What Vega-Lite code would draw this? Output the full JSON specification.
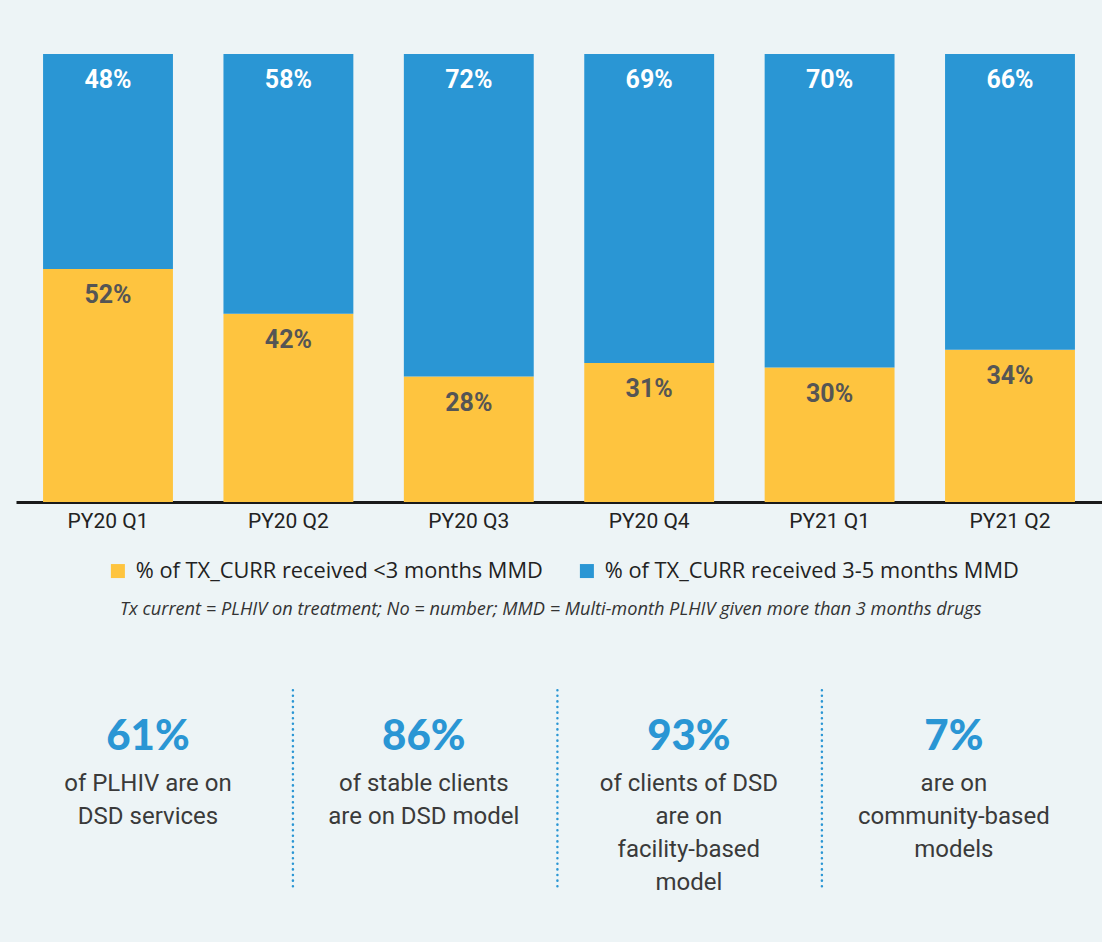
{
  "$schema": "https://vega.github.io/schema/vega-lite/v6.json",
  "background": "#edf4f6",
  "padding": {"left": 16, "top": 54, "right": 0, "bottom": 42},
  "config": {"view": {"stroke": null}, "concat": {"spacing": 63}, "font": "Roboto"},
  "vconcat": [
    {
      "width": 1086,
      "height": 448,
      "data": {"values": [
        {"quarter": "PY20 Q1", "series": "% of TX_CURR received <3 months MMD", "ord": 1, "value": 52, "label": "52%"},
        {"quarter": "PY20 Q1", "series": "% of TX_CURR received 3-5 months MMD", "ord": 2, "value": 48, "label": "48%"},
        {"quarter": "PY20 Q2", "series": "% of TX_CURR received <3 months MMD", "ord": 1, "value": 42, "label": "42%"},
        {"quarter": "PY20 Q2", "series": "% of TX_CURR received 3-5 months MMD", "ord": 2, "value": 58, "label": "58%"},
        {"quarter": "PY20 Q3", "series": "% of TX_CURR received <3 months MMD", "ord": 1, "value": 28, "label": "28%"},
        {"quarter": "PY20 Q3", "series": "% of TX_CURR received 3-5 months MMD", "ord": 2, "value": 72, "label": "72%"},
        {"quarter": "PY20 Q4", "series": "% of TX_CURR received <3 months MMD", "ord": 1, "value": 31, "label": "31%"},
        {"quarter": "PY20 Q4", "series": "% of TX_CURR received 3-5 months MMD", "ord": 2, "value": 69, "label": "69%"},
        {"quarter": "PY21 Q1", "series": "% of TX_CURR received <3 months MMD", "ord": 1, "value": 30, "label": "30%"},
        {"quarter": "PY21 Q1", "series": "% of TX_CURR received 3-5 months MMD", "ord": 2, "value": 70, "label": "70%"},
        {"quarter": "PY21 Q2", "series": "% of TX_CURR received <3 months MMD", "ord": 1, "value": 34, "label": "34%"},
        {"quarter": "PY21 Q2", "series": "% of TX_CURR received 3-5 months MMD", "ord": 2, "value": 66, "label": "66%"}
      ]},
      "transform": [
        {"stack": "value", "groupby": ["quarter"], "sort": [{"field": "ord"}], "as": ["v0", "v1"]}
      ],
      "encoding": {
        "x": {
          "field": "quarter", "type": "nominal", "sort": null,
          "scale": {"paddingInner": 0.28, "paddingOuter": 0.15},
          "axis": {
            "title": null, "labelAngle": 0, "ticks": false, "labelPadding": 8,
            "labelFontSize": 21, "labelColor": "#222222", "labelFont": "Roboto",
            "domainColor": "#1a1a1a", "domainWidth": 3
          }
        }
      },
      "layer": [
        {
          "mark": {"type": "bar"},
          "encoding": {
            "y": {"field": "v1", "type": "quantitative", "scale": {"domain": [0, 100]}, "axis": null},
            "y2": {"field": "v0"},
            "color": {
              "field": "series", "type": "nominal",
              "scale": {"domain": ["% of TX_CURR received <3 months MMD", "% of TX_CURR received 3-5 months MMD"], "range": ["#fec43f", "#2a96d4"]},
              "legend": {
                "title": null, "orient": "none", "direction": "horizontal",
                "legendX": 91, "legendY": 506,
                "symbolType": "square", "symbolSize": 196, "symbolStrokeWidth": 0,
                "labelFont": "Open Sans", "labelFontSize": 21.8, "labelColor": "#222222", "labelOffset": 7,
                "columnPadding": 33, "labelLimit": 600
              }
            }
          }
        },
        {
          "mark": {"type": "text", "dy": 26, "baseline": "middle", "fontSize": 25, "fontWeight": "bold"},
          "encoding": {
            "y": {"field": "v1", "type": "quantitative", "scale": {"domain": [0, 100]}},
            "text": {"field": "label"},
            "color": {"condition": {"test": "datum.ord == 1", "value": "#555555"}, "value": "#ffffff"}
          }
        }
      ]
    },
    {
      "width": 1086,
      "height": 310,
      "layer": [
        {
          "data": {"values": [{"pos": 1, "top": -1.42, "bottom": 4.67}, {"pos": 2, "top": -1.42, "bottom": 4.67}, {"pos": 3, "top": -1.42, "bottom": 4.67}]},
          "mark": {"type": "rule", "color": "#2a96d4", "strokeWidth": 2.5, "strokeCap": "round", "strokeDash": [0.1, 5.5]},
          "encoding": {
            "x": {"field": "pos", "type": "quantitative", "scale": {"domain": [-0.047, 4.059]}, "axis": null},
            "y": {"field": "top", "type": "quantitative", "scale": {"domain": [-4.333, 5.061], "reverse": true}, "axis": null},
            "y2": {"field": "bottom"}
          }
        },
        {
          "data": {"values": [{"pos": 1.975, "row": -3.85, "text": "Tx current = PLHIV on treatment; No = number; MMD = Multi-month PLHIV given more than 3 months drugs"}]},
          "mark": {"type": "text", "font": "Open Sans", "fontSize": 18.2, "fontStyle": "italic", "color": "#333333", "baseline": "middle"},
          "encoding": {
            "x": {"field": "pos", "type": "quantitative", "scale": {"domain": [-0.047, 4.059]}, "axis": null},
            "y": {"field": "row", "type": "quantitative", "scale": {"domain": [-4.333, 5.061], "reverse": true}, "axis": null},
            "text": {"field": "text"}
          }
        },
        {
          "data": {"values": [
            {"pos": 0.452, "row": 0, "text": "61%", "kind": "big"},
            {"pos": 0.452, "row": 1.5, "text": "of PLHIV are on", "kind": "body"},
            {"pos": 0.452, "row": 2.5, "text": "DSD services", "kind": "body"},
            {"pos": 1.495, "row": 0, "text": "86%", "kind": "big"},
            {"pos": 1.495, "row": 1.5, "text": "of stable clients", "kind": "body"},
            {"pos": 1.495, "row": 2.5, "text": "are on DSD model", "kind": "body"},
            {"pos": 2.497, "row": 0, "text": "93%", "kind": "big"},
            {"pos": 2.497, "row": 1.5, "text": "of clients of DSD", "kind": "body"},
            {"pos": 2.497, "row": 2.5, "text": "are on", "kind": "body"},
            {"pos": 2.497, "row": 3.5, "text": "facility-based", "kind": "body"},
            {"pos": 2.497, "row": 4.5, "text": "model", "kind": "body"},
            {"pos": 3.499, "row": 0, "text": "7%", "kind": "big"},
            {"pos": 3.499, "row": 1.5, "text": "are on", "kind": "body"},
            {"pos": 3.499, "row": 2.5, "text": "community-based", "kind": "body"},
            {"pos": 3.499, "row": 3.5, "text": "models", "kind": "body"}
          ]},
          "layer": [
            {
              "transform": [{"filter": "datum.kind == 'big'"}],
              "mark": {"type": "text", "font": "Lato", "fontWeight": 900, "fontSize": 42, "color": "#2a96d4", "baseline": "middle"},
              "encoding": {
                "x": {"field": "pos", "type": "quantitative", "scale": {"domain": [-0.047, 4.059]}, "axis": null},
                "y": {"field": "row", "type": "quantitative", "scale": {"domain": [-4.333, 5.061], "reverse": true}, "axis": null},
                "text": {"field": "text"}
              }
            },
            {
              "transform": [{"filter": "datum.kind == 'body'"}],
              "mark": {"type": "text", "fontSize": 24, "color": "#3a3a3a", "baseline": "middle", "dy": -2},
              "encoding": {
                "x": {"field": "pos", "type": "quantitative", "scale": {"domain": [-0.047, 4.059]}, "axis": null},
                "y": {"field": "row", "type": "quantitative", "scale": {"domain": [-4.333, 5.061], "reverse": true}, "axis": null},
                "text": {"field": "text"}
              }
            }
          ]
        }
      ]
    }
  ]
}
